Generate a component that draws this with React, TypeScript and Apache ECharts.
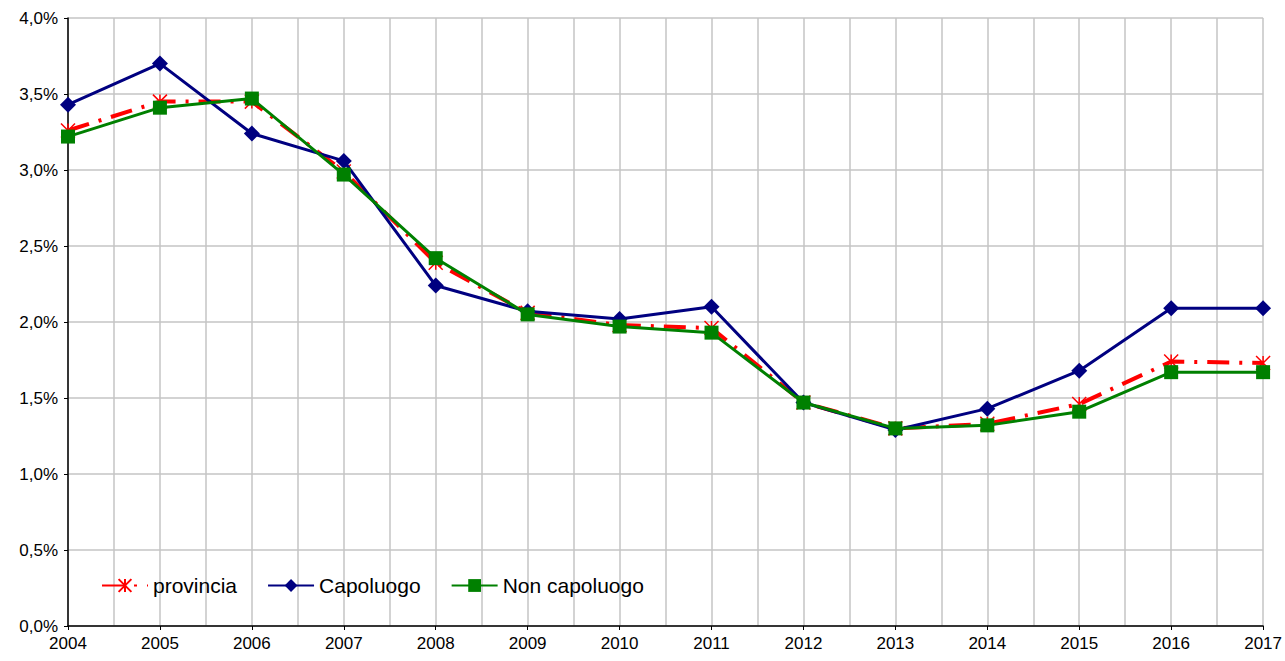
import React, { useEffect, useRef } from "react";
import * as echarts from "echarts";

const years = [2004, 2005, 2006, 2007, 2008, 2009, 2010, 2011, 2012, 2013, 2014, 2015, 2016, 2017];
const provincia = [3.26, 3.45, 3.45, 2.99, 2.39, 2.06, 1.98, 1.96, 1.47, 1.3, 1.33, 1.46, 1.74, 1.73];
const capoluogo = [3.43, 3.70, 3.24, 3.06, 2.24, 2.07, 2.02, 2.10, 1.47, 1.29, 1.43, 1.68, 2.09, 2.09];
const nonCapoluogo = [3.22, 3.41, 3.47, 2.97, 2.42, 2.05, 1.97, 1.93, 1.47, 1.30, 1.32, 1.41, 1.67, 1.67];
const seriesNames = ["provincia", "Capoluogo", "Non capoluogo"];

const FONT = "'Liberation Sans', Arial, sans-serif";
const GRID_COLOR = "#c4c4c4";

export default function App() {
  const ref = useRef<HTMLDivElement>(null);
  useEffect(() => {
    if (!ref.current) return;
    const chart = echarts.init(ref.current, undefined, { renderer: "svg" });
    const pair = (vals: number[]) => years.map((y, i) => [y, vals[i]]);
    chart.setOption({
      animation: false,
      backgroundColor: "#ffffff",
      grid: { left: 68, right: 20, top: 18, bottom: 35, containLabel: false },
      legend: {
        left: 96,
        top: 570,
        itemWidth: 46,
        itemHeight: 16,
        itemGap: 30,
        textStyle: { fontFamily: FONT, fontSize: 21, color: "#000" },
        data: seriesNames,
      },
      xAxis: {
        type: "value",
        min: 2004,
        max: 2017,
        interval: 1,
        axisLine: { show: true, lineStyle: { color: "#000", width: 1.5 } },
        axisTick: { show: true, length: 4, lineStyle: { color: "#000" } },
        minorTick: { show: true, splitNumber: 2, length: 0 },
        minorSplitLine: { show: true, lineStyle: { color: GRID_COLOR, width: 1.5 } },
        splitLine: { show: true, lineStyle: { color: GRID_COLOR, width: 1.5 } },
        axisLabel: {
          fontFamily: FONT,
          fontSize: 17,
          color: "#000",
          margin: 9,
          formatter: (v: number) => String(v),
        },
      },
      yAxis: {
        type: "value",
        min: 0,
        max: 4,
        interval: 0.5,
        axisLine: { show: true, lineStyle: { color: "#000", width: 1.5 } },
        axisTick: { show: true, length: 4, lineStyle: { color: "#000" } },
        splitLine: { show: true, lineStyle: { color: GRID_COLOR, width: 1.5 } },
        axisLabel: {
          fontFamily: FONT,
          fontSize: 17,
          color: "#000",
          margin: 10,
          formatter: (v: number) => v.toFixed(1).replace(".", ",") + "%",
        },
      },
      series: [
        {
          name: "provincia",
          type: "line",
          data: pair(provincia),
          symbol: "path://M0,0L10,10M10,0L0,10M5,0L5,10",
          symbolSize: 14,
          z: 2,
          lineStyle: { color: "#ff0000", width: 4, type: [22, 10, 3, 10] },
          itemStyle: { color: "#ff0000", borderColor: "#ff0000", borderWidth: 1.5 },
        },
        {
          name: "Capoluogo",
          type: "line",
          data: pair(capoluogo),
          symbol: "diamond",
          symbolSize: 16,
          z: 3,
          lineStyle: { color: "#000080", width: 3 },
          itemStyle: { color: "#000080" },
        },
        {
          name: "Non capoluogo",
          type: "line",
          data: pair(nonCapoluogo),
          symbol: "rect",
          symbolSize: 14,
          z: 4,
          lineStyle: { color: "#008000", width: 3 },
          itemStyle: { color: "#008000" },
        },
      ],
    });
    return () => chart.dispose();
  }, []);
  return (
    <div
      ref={ref}
      style={{ position: "fixed", left: 0, top: 0, width: 1285, height: 661, background: "#fff" }}
    />
  );
}
